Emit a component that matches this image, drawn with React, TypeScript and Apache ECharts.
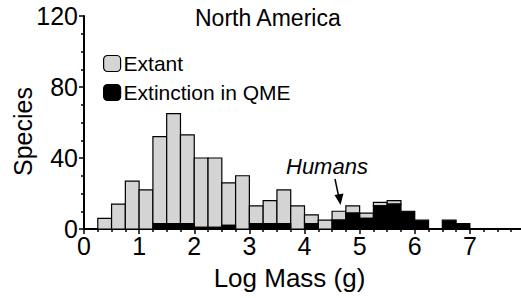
import React, { useEffect, useRef } from "react";
import * as echarts from "echarts";

// Histogram bins (log10 mass in g), bin width 0.25
const BIN_WIDTH = 0.25;
const binStarts = [
  0, 0.25, 0.5, 0.75, 1, 1.25, 1.5, 1.75, 2, 2.25, 2.5, 2.75, 3, 3.25, 3.5, 3.75,
  4, 4.25, 4.5, 4.75, 5, 5.25, 5.5, 5.75, 6, 6.25, 6.5, 6.75, 7, 7.25, 7.5, 7.75,
];
// total species per bin (extant + extinct)
const totalSpecies = [
  0, 6, 14, 27, 22, 52, 65, 53, 40, 40, 26, 30, 13, 16, 22, 13,
  8, 5, 10, 13, 9, 15, 16, 10, 5, 0, 5, 3, 0, 0, 0, 0,
];
// species extinct in the Quaternary megafaunal extinction
const extinctSpecies = [
  0, 0, 0, 0, 0, 3, 3, 3, 1, 1, 2, 0, 3, 3, 3, 0,
  3, 0, 5, 9, 6, 13, 14, 10, 5, 0, 5, 3, 0, 0, 0, 0,
];
const xTicks = [0, 1, 2, 3, 4, 5, 6, 7];
const yTicks = [0, 40, 80, 120];

const FONT = "'Liberation Sans', Arial, Helvetica, sans-serif";
const GREY = "#d4d4d4";

export default function App() {
  const ref = useRef<HTMLDivElement>(null);

  useEffect(() => {
    if (!ref.current) return;
    const chart = echarts.init(ref.current, undefined, { renderer: "svg" });

    const extantData = binStarts.map((s, i) => [s, extinctSpecies[i], totalSpecies[i]]);
    const extinctData = binStarts.map((s, i) => [s, 0, extinctSpecies[i]]);

    const makeRender = (fill: string) => (params: any, api: any) => {
      const x = api.value(0);
      const lo = api.value(1);
      const hi = api.value(2);
      if (!(hi > lo)) return null;
      const p0 = api.coord([x, lo]);
      const p1 = api.coord([x + BIN_WIDTH, hi]);
      return {
        type: "rect",
        shape: { x: p0[0], y: p1[1], width: p1[0] - p0[0], height: p0[1] - p1[1] },
        style: { fill, stroke: "#000", lineWidth: 1.2 },
      };
    };

    chart.setOption({
      animation: false,
      textStyle: { fontFamily: FONT, color: "#000" },
      title: {
        text: "North America",
        left: 195,
        top: 6,
        padding: 0,
        textStyle: { fontFamily: FONT, fontSize: 23, fontWeight: "normal", color: "#000" },
      },
      legend: {
        orient: "vertical",
        left: 103,
        top: 53,
        padding: 0,
        itemWidth: 17,
        itemHeight: 16,
        itemGap: 8,
        selectedMode: false,
        textStyle: { fontFamily: FONT, fontSize: 21, color: "#000", padding: [0, 0, 0, -2] },
        data: [
          {
            name: "Extant",
            icon: "roundRect",
            itemStyle: { color: GREY, borderColor: "#000", borderWidth: 1.2 },
          },
          {
            name: "Extinction in QME",
            icon: "roundRect",
            itemStyle: { color: "#000", borderColor: "#000", borderWidth: 1.2 },
          },
        ],
      },
      grid: {
        left: 84,
        top: 16,
        bottom: 69,
        right: -4,
        containLabel: false,
        outerBoundsMode: "none",
      },
      xAxis: {
        type: "value",
        min: xTicks[0],
        max: 8,
        interval: 1,
        name: "Log Mass (g)",
        nameLocation: "middle",
        nameGap: 36,
        nameMoveOverlap: false,
        nameTextStyle: { fontFamily: FONT, fontSize: 26, color: "#000", padding: [0, 30, 0, 0] },
        axisLine: { show: true, onZero: false, lineStyle: { color: "#000", width: 2 } },
        axisTick: { show: true, length: 5, lineStyle: { color: "#000", width: 1.5 } },
        minorTick: { show: true, splitNumber: 4, length: 3, lineStyle: { color: "#000", width: 1.5 } },
        axisLabel: {
          fontFamily: FONT,
          fontSize: 25,
          color: "#000",
          margin: 4,
          showMaxLabel: false,
          formatter: (v: number) => (xTicks.includes(v) ? String(v) : ""),
        },
        splitLine: { show: false },
      },
      yAxis: {
        type: "value",
        min: yTicks[0],
        max: yTicks[yTicks.length - 1],
        interval: 40,
        name: "Species",
        nameLocation: "middle",
        nameGap: 49,
        nameMoveOverlap: false,
        nameTextStyle: { fontFamily: FONT, fontSize: 25, color: "#000", padding: [0, 18, 0, 0] },
        axisLine: { show: true, lineStyle: { color: "#000", width: 2 } },
        axisTick: { show: true, length: 5, lineStyle: { color: "#000", width: 1.5 } },
        minorTick: { show: true, splitNumber: 4, length: 3, lineStyle: { color: "#000", width: 1.5 } },
        axisLabel: { fontFamily: FONT, fontSize: 25, color: "#000", margin: 6 },
        splitLine: { show: false },
      },
      series: [
        {
          name: "Extant",
          type: "custom",
          renderItem: makeRender(GREY),
          encode: { x: 0, y: 2 },
          itemStyle: { color: GREY, borderColor: "#000" },
          data: extantData,
          z: 3,
        },
        {
          name: "Extinction in QME",
          type: "custom",
          renderItem: makeRender("#000"),
          encode: { x: 0, y: 2 },
          itemStyle: { color: "#000" },
          data: extinctData,
          z: 3,
        },
      ],
      graphic: [
        {
          type: "text",
          left: 286,
          top: 155,
          style: {
            text: "Humans",
            fontFamily: FONT,
            fontSize: 22,
            fontStyle: "italic",
            fill: "#000",
          },
        },
        {
          type: "line",
          shape: { x1: 335, y1: 179, x2: 339, y2: 198 },
          style: { stroke: "#000", lineWidth: 1.5 },
        },
        {
          type: "polygon",
          shape: { points: [[334.5, 195], [343.5, 193.5], [340.5, 205]] },
          style: { fill: "#000" },
        },
      ],
    });

    return () => chart.dispose();
  }, []);

  return (
    <div
      ref={ref}
      style={{ position: "fixed", left: 0, top: 0, width: 521, height: 298, background: "#fff" }}
    />
  );
}
